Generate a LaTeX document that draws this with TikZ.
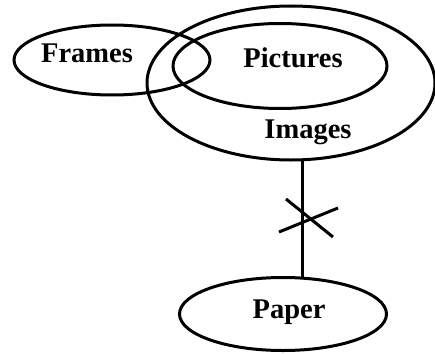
\documentclass[tikz,border=0pt]{standalone}
\usepackage{fontspec}
\setmainfont{Liberation Serif}
\usetikzlibrary{shapes.geometric}
\begin{document}
\begin{tikzpicture}[x=1pt,y=-1pt,
  ell/.style={draw=black,line width=3pt,ellipse,inner sep=0pt},
  lbl/.style={font=\fontsize{28.5}{32}\selectfont\bfseries,anchor=base,inner sep=0pt},
  conn/.style={line width=3pt}]
\useasboundingbox (0,0) rectangle (435,353);
\node[ell,minimum width=196pt,minimum height=70pt] (frames) at (112,60) {};
\node[ell,minimum width=288pt,minimum height=154pt] (images) at (291,83) {};
\node[ell,minimum width=214pt,minimum height=85pt] (pictures) at (280,66) {};
\node[ell,minimum width=207pt,minimum height=73pt] (paper) at (283,314) {};
\node[lbl] (tframes) at (87,62) {Frames};
\node[lbl] (tpictures) at (293,67) {Pictures};
\node[lbl] (timages) at (308,138) {Images};
\node[lbl] (tpaper) at (289,318) {Paper};
\coordinate (top) at (302,160);
\coordinate (bot) at (302,278);
\draw[conn] (top) -- (bot);
\coordinate (c1a) at (286,199);
\coordinate (c1b) at (333,237);
\coordinate (c2a) at (279,232);
\coordinate (c2b) at (338,208);
\draw[conn] (c1a) -- (c1b);
\draw[conn] (c2a) -- (c2b);
\end{tikzpicture}
\end{document}
